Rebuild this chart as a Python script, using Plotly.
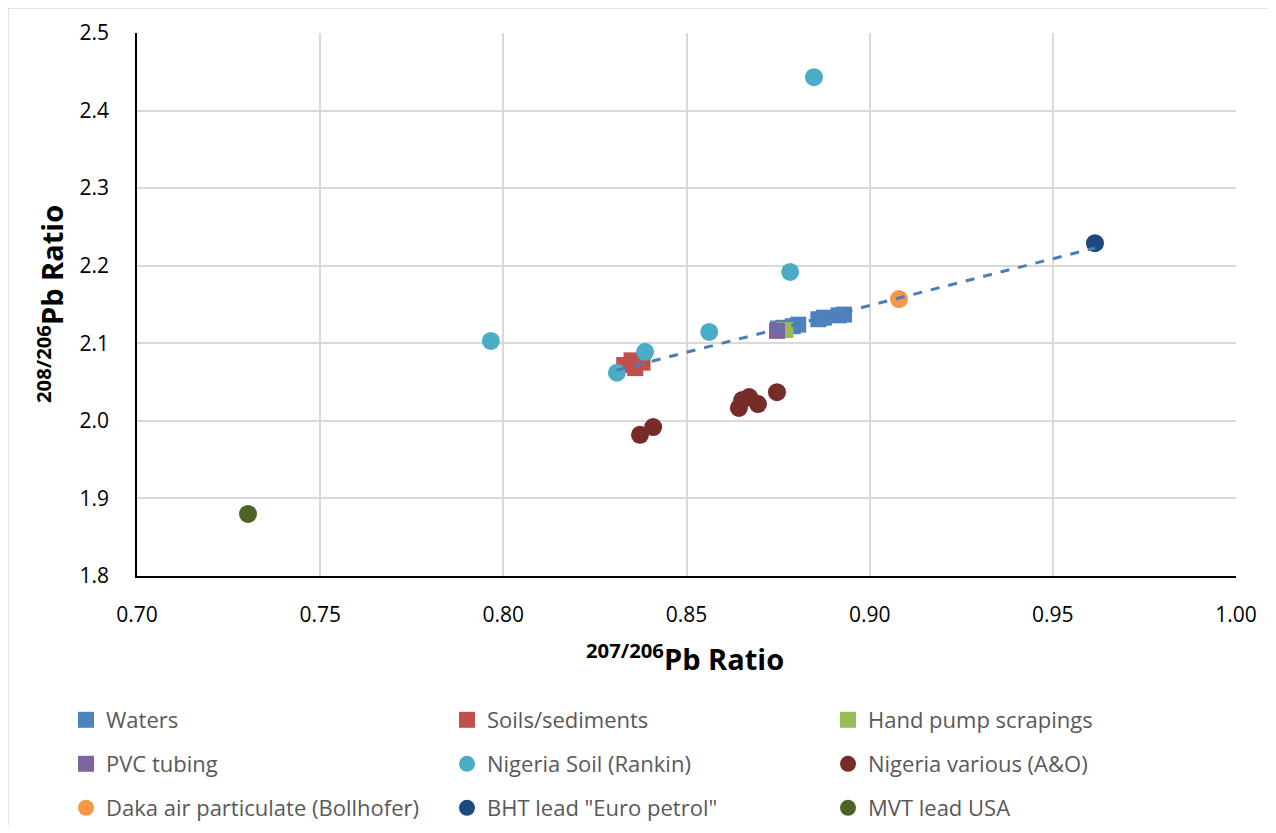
import numpy as np
import plotly.graph_objects as go

# ---- data ----
waters_x = [0.875, 0.8765, 0.879, 0.8805, 0.886, 0.8875, 0.8915, 0.893]
waters_y = [2.119, 2.120, 2.122, 2.124, 2.131, 2.133, 2.136, 2.137]
soils_x = [0.833, 0.835, 0.836, 0.838]
soils_y = [2.072, 2.078, 2.068, 2.075]
pump_x = [0.877]
pump_y = [2.117]
pvc_x = [0.8747]
pvc_y = [2.116]
rankin_x = [0.7966, 0.8848, 0.8783, 0.8562, 0.8387, 0.831]
rankin_y = [2.103, 2.443, 2.192, 2.1146, 2.089, 2.062]
ao_x = [0.8373, 0.8409, 0.8643, 0.8652, 0.8671, 0.8695, 0.8747]
ao_y = [1.982, 1.992, 2.0166, 2.0268, 2.0307, 2.0217, 2.037]
daka_x = [0.908]
daka_y = [2.157]
bht_x = [0.9615]
bht_y = [2.229]
mvt_x = [0.7303]
mvt_y = [1.880]

names = ["Waters", "Soils/sediments", "Hand pump scrapings", "PVC tubing",
         "Nigeria Soil (Rankin)", "Nigeria various (A&O)",
         "Daka air particulate (Bollhofer)", 'BHT lead "Euro petrol"', "MVT lead USA"]

x_ticks = [0.70, 0.75, 0.80, 0.85, 0.90, 0.95, 1.00]
y_ticks = [1.8, 1.9, 2.0, 2.1, 2.2, 2.3, 2.4, 2.5]

series = [
    (waters_x, waters_y, "#4F81BD", "square"),
    (soils_x, soils_y, "#C0504D", "square"),
    (pump_x, pump_y, "#9BBB59", "square"),
    (pvc_x, pvc_y, "#8064A2", "square"),
    (rankin_x, rankin_y, "#4BACC6", "circle"),
    (ao_x, ao_y, "#772C2A", "circle"),
    (daka_x, daka_y, "#F79646", "circle"),
    (bht_x, bht_y, "#1F497D", "circle"),
    (mvt_x, mvt_y, "#4F6228", "circle"),
]

# trend line: linear fit through waters, soils, pump, PVC and BHT samples
fit_x = np.array(waters_x + soils_x + pump_x + pvc_x + bht_x)
fit_y = np.array(waters_y + soils_y + pump_y + pvc_y + bht_y)
slope, intercept = np.polyfit(fit_x, fit_y, 1)
trend_x = np.array([min(rankin_x[-1], fit_x.min()), fit_x.max()])
trend_y = slope * trend_x + intercept

FONT = "Open Sans, sans-serif"
fig = go.Figure()
legends = ["legend", "legend2", "legend3"]
for i, ((xs, ys, col, sym), nm) in enumerate(zip(series, names)):
    fig.add_trace(go.Scatter(
        x=xs, y=ys, mode="markers", name=nm,
        marker=dict(color=col, symbol=sym, size=16 if sym == "square" else 18,
                    line=dict(width=0)),
        legend=legends[i // 3],
    ))
fig.add_trace(go.Scatter(x=trend_x, y=trend_y, mode="lines", showlegend=False,
                         line=dict(color="#4A7EBB", width=3, dash="dash")))

OFF = 8  # page body margin offset
W, H = 1276 - 2 * OFF, 833 - 2 * OFF   # keep the page from overflowing
L, R, T, B = 137 - OFF, 1236 - OFF, 33 - OFF, 576 - OFF
def px_x(p): return (p - OFF - L) / (R - L)
def px_y(p): return (B - (p - OFF)) / (B - T)

leg_common = dict(orientation="h", xanchor="left", yanchor="middle",
                  entrywidth=336, entrywidthmode="pixels",
                  font=dict(family=FONT, size=22, color="#595959"),
                  bgcolor="rgba(0,0,0,0)", itemsizing="trace")
fig.update_layout(
    width=W, height=H,
    margin=dict(l=L, r=W - R, t=T, b=H - B, autoexpand=False),
    paper_bgcolor="white", plot_bgcolor="white",
    font=dict(family=FONT, size=21, color="#000000"),
    legend=dict(x=px_x(66), y=px_y(720), **leg_common),
    legend2=dict(x=px_x(66), y=px_y(764), **leg_common),
    legend3=dict(x=px_x(66), y=px_y(808), **leg_common),
    xaxis=dict(range=[0.70, 1.00], tickvals=x_ticks, tickformat=".2f",
               showgrid=True, gridcolor="#D9D9D9", gridwidth=1.5,
               showline=True, linecolor="#000000", linewidth=1.5,
               zeroline=False, ticks="", ticklabelstandoff=19,
               tickfont=dict(size=21, family=FONT, color="#000000")),
    yaxis=dict(range=[1.8, 2.5], tickvals=y_ticks, tickformat=".1f",
               showgrid=True, gridcolor="#D9D9D9", gridwidth=1.5,
               showline=True, linecolor="#000000", linewidth=1.5,
               zeroline=False, ticks="", ticklabelstandoff=22,
               tickfont=dict(size=21, family=FONT, color="#000000")),
    annotations=[
        dict(text="<sup>207/206</sup>Pb Ratio", xref="paper", yref="paper",
             x=px_x(685), y=px_y(657), showarrow=False,
             font=dict(size=29, family=FONT, color="#000000", weight="bold"),
             xanchor="center", yanchor="middle"),
        dict(text="<sup>208/206</sup>Pb Ratio", xref="paper", yref="paper",
             x=px_x(50), y=px_y(304), showarrow=False, textangle=-90,
             font=dict(size=29, family=FONT, color="#000000", weight="bold"),
             xanchor="center", yanchor="middle"),
    ],
    shapes=[dict(type="rect", xref="paper", yref="paper",
                 x0=px_x(8), x1=px_x(1300), y0=px_y(860), y1=px_y(8),
                 line=dict(color="#D9D9D9", width=1.5), layer="below")],
)

fig.write_html("out.html")
